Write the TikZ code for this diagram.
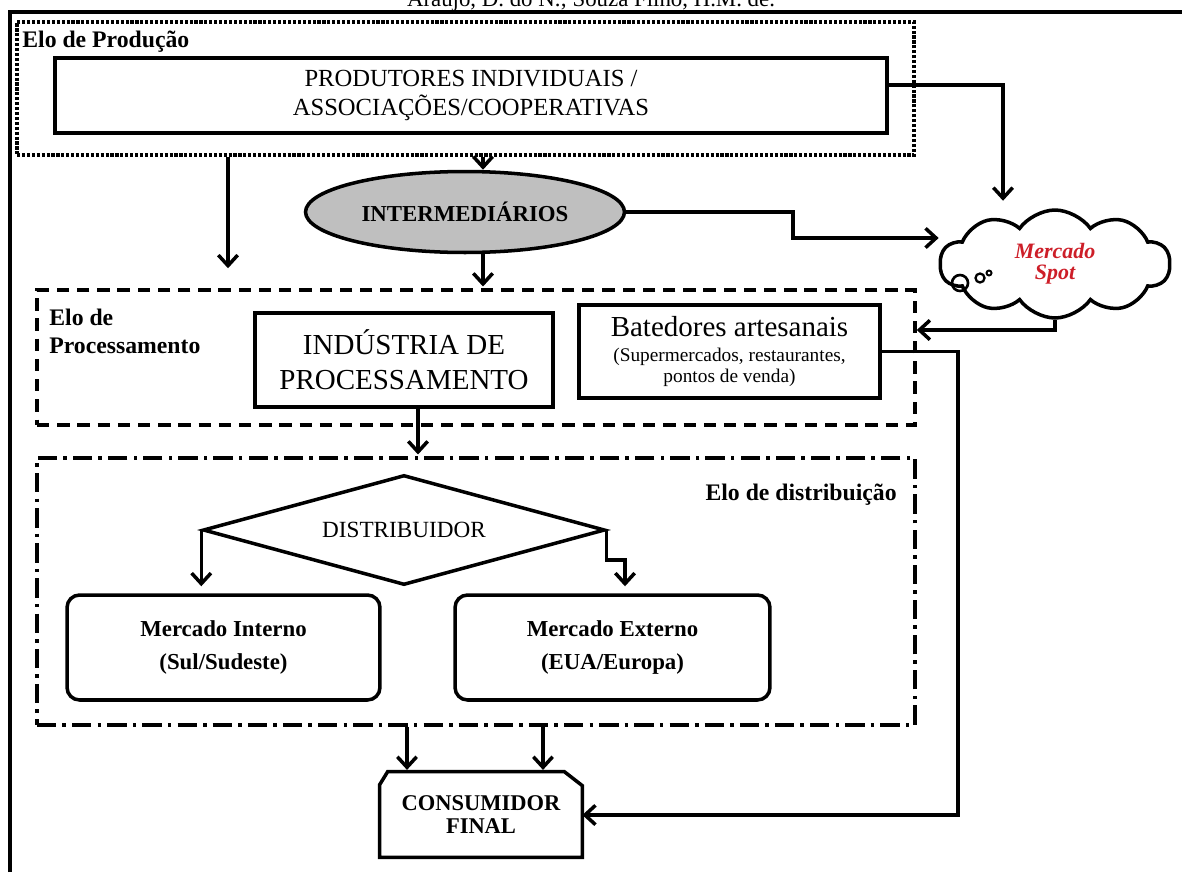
\documentclass[tikz,border=0pt]{standalone}
\usepackage{fontspec}
\setmainfont{Liberation Serif}
\usetikzlibrary{shapes.geometric,shapes.symbols,arrows.meta,fit,calc}
\definecolor{spotred}{RGB}{205,30,40}

\begin{document}
\begin{tikzpicture}[x=0.02cm,y=-0.02cm,
	caixa/.style={draw,line width=2pt,inner sep=0pt,align=center},
	elo/.style={draw,line width=2pt,inner sep=0pt},
	seta/.style={line width=2pt,-{Straight Barb[length=6pt,width=11pt,line width=2pt]}},
	rotulo/.style={font=\bfseries\fontsize{13.5}{16}\selectfont,align=left,inner sep=0pt}]
	\useasboundingbox (0,0) rectangle (1182,872);
	% moldura e autor
	\draw[line width=2.2pt] (10,872)--(10,12)--(1182,12);
	\node[anchor=base,inner sep=0pt] (autor) at (591,7) {\fontsize{13}{15}\selectfont Araújo, D. do N.; Souza Filho, H.M. de.};
	% elos
	\node[elo,line width=1.8pt,densely dotted,fit={(17,22) (914,155)}] (prod) {};
	\node[elo,dash pattern=on 7pt off 4.5pt,fit={(37,290) (915,425)}] (proc) {};
	\node[elo,dash pattern=on 11pt off 3.5pt on 2pt off 3.5pt,fit={(37,458) (915,725)}] (dist) {};
	\node[rotulo,anchor=west] (lprod) at (22,42) {Elo de Produção};
	\node[rotulo,anchor=north west] (lproc) at (49,309) {Elo de\\Processamento};
	\node[rotulo,anchor=east] (ldist) at (897,495) {Elo de distribuição};
	% caixas
	\node[caixa,minimum width=16.64cm,minimum height=1.5cm,font=\fontsize{14}{17}\selectfont] (pbox) at (471,95.5) {PRODUTORES INDIVIDUAIS /\\ASSOCIAÇÕES/COOPERATIVAS};
	\node[ellipse,draw,line width=2pt,fill=gray!50,minimum width=6.38cm,minimum height=1.62cm,inner sep=0pt,font=\bfseries\fontsize{13}{15}\selectfont] (inter) at (465,212) {INTERMEDIÁRIOS};
	\node[cloud,draw,line width=2pt,cloud puffs=10,cloud puff arc=110,aspect=2.1,minimum width=4.6cm,minimum height=2.16cm,inner sep=0pt,align=center,text=spotred,font=\bfseries\itshape\fontsize{12.5}{12}\selectfont] (spot) at (1055,264) {Mercado\\Spot};
	\draw[line width=1.5pt] (960,283) circle[radius=0.16cm];
	\draw[line width=1.3pt] (980,278) circle[radius=0.09cm];
	\draw[line width=1.1pt] (989,273) circle[radius=0.05cm];
	\node[caixa,minimum width=5.96cm,minimum height=1.88cm,font=\fontsize{16.5}{20}\selectfont] (ind) at (404,360) {INDÚSTRIA DE\\PROCESSAMENTO};
	\node[caixa,minimum width=6.02cm,minimum height=1.86cm] (bat) at (729.5,351.5) {{\fontsize{16.5}{17}\selectfont Batedores artesanais}\\[2pt]{\fontsize{11}{11.5}\selectfont (Supermercados, restaurantes,}\\{\fontsize{11}{11.5}\selectfont pontos de venda)}};
	\node[diamond,draw,line width=2pt,aspect=3.6,minimum width=8.04cm,minimum height=2.2cm,inner sep=0pt,font=\fontsize{13.2}{15}\selectfont] (distr) at (404,530) {DISTRIBUIDOR};
	\node[caixa,rounded corners=0.25cm,minimum width=6.26cm,minimum height=2.1cm,font=\bfseries\fontsize{13}{19}\selectfont] (mi) at (223.5,647.5) {Mercado Interno\\(Sul/Sudeste)};
	\node[caixa,rounded corners=0.25cm,minimum width=6.3cm,minimum height=2.1cm,font=\bfseries\fontsize{13}{19}\selectfont] (me) at (612.5,647.5) {Mercado Externo\\(EUA/Europa)};
	\node[inner sep=0pt,align=center,minimum width=4.04cm,minimum height=1.7cm,font=\bfseries\fontsize{12.8}{13.5}\selectfont] (cf) at (481,814.5) {CONSUMIDOR\\FINAL};
	\draw[line width=2pt] (cf.south west) -- ($(cf.north west)+(0,13)$) -- ($(cf.north west)+(8,0)$) -- ($(cf.north east)+(-18,0)$) -- ($(cf.north east)+(0,14)$) -- (cf.south east) -- cycle;
	% pontos das setas
	\coordinate (xa) at (228,0);
	\coordinate (xb) at (483,0);
	\coordinate (xc) at (793,0);
	\coordinate (xd) at (1003,0);
	\coordinate (xf) at (958,0);
	\coordinate (xg) at (625,0);
	\coordinate (xh) at (407,0);
	\coordinate (xi) at (543,0);
	\coordinate (xj) at (418,0);
	\coordinate (ya) at (0,85);
	\coordinate (yc) at (0,815);
	\coordinate (yd) at (0,238);
	\coordinate (ye) at (0,330);
	% setas
	\draw[seta,shorten >=0.4cm] (prod.south -| xa) -- (proc.north -| xa);
	\draw[seta] (prod.south -| xb) -- (inter.north -| xb);
	\draw[seta,shorten >=1pt] (inter.south -| xb) -- (proc.north -| xb);
	\draw[seta] (inter.east) -- (inter.east -| xc) |- (spot.west |- yd);
	\draw[seta,shorten >=0.15cm] (pbox.east |- ya) -| (xd |- spot.north);
	\draw[seta] (spot.south) |- (proc.east |- ye);
	\draw[seta] (bat.east) -- (bat.east -| xf) |- (cf.east |- yc);
	\draw[seta,shorten >=1pt] (ind.south -| xj) -- (dist.north -| xj);
	\draw[seta,shorten >=0.14cm] (distr.west) -- (distr.west |- mi.north);
	\draw[seta,shorten >=0.14cm] (distr.east) -- ++(0,30) -| (xg |- me.north);
	\draw[seta,shorten >=1pt] (dist.south -| xh) -- (cf.north -| xh);
	\draw[seta,shorten >=1pt] (dist.south -| xi) -- (cf.north -| xi);
\end{tikzpicture}
\end{document}
